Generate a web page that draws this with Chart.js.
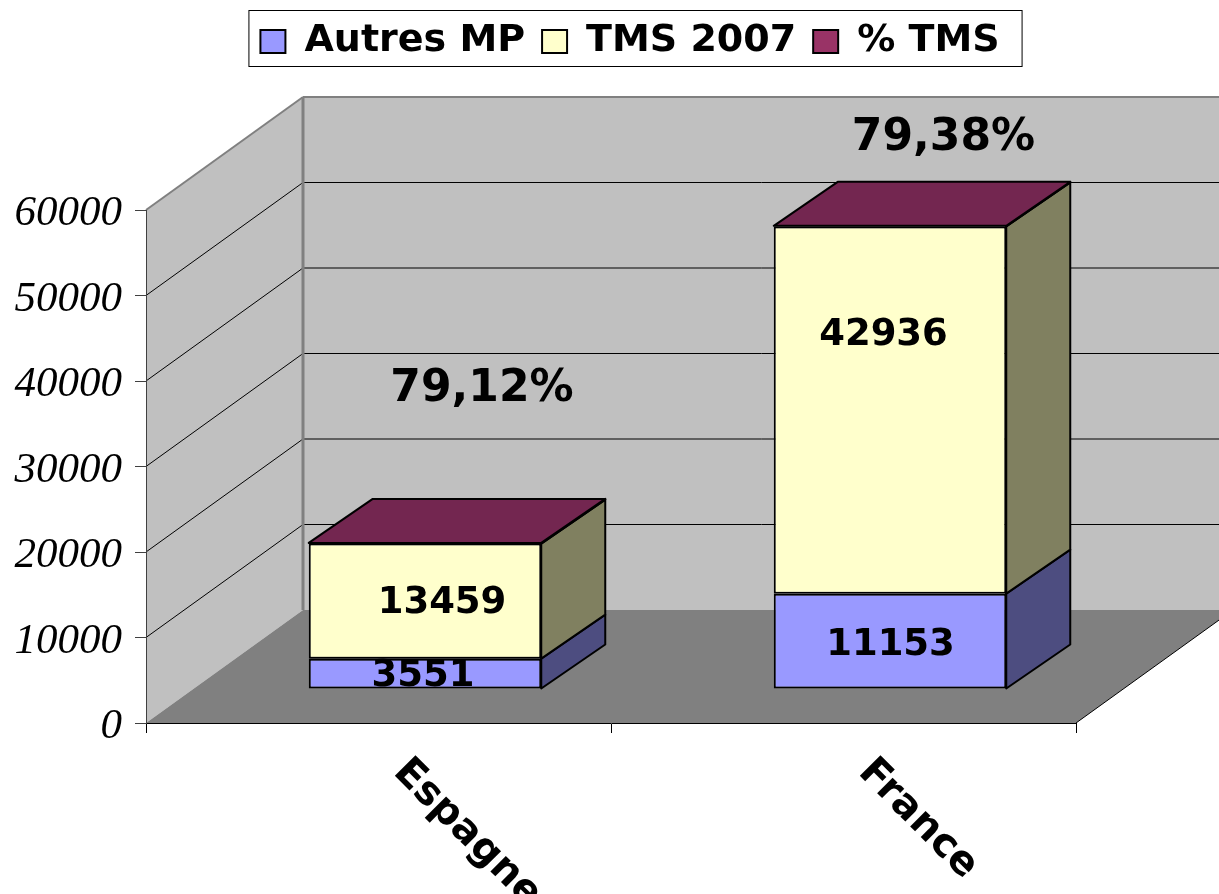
<!DOCTYPE html>
<html><head><meta charset="utf-8">
<style>html,body{margin:0;padding:0;background:#fff;overflow:hidden}canvas{display:block}</style>
<script src="https://cdn.jsdelivr.net/npm/chart.js@4"></script></head>
<body><canvas id="c" width="1219" height="894"></canvas>
<script>
const categories = ["Espagne", "France"];
const autresMP = [3551, 11153];
const tms2007 = [13459, 42936];
const pctTMS = [79.12, 79.38];
const seriesNames = ["Autres MP", "TMS 2007", "% TMS"];
const yTicks = [0, 10000, 20000, 30000, 40000, 50000, 60000];

// 3D look (styling only)
const WALL = {dx: 157, dy: -113};
const BAR_SHIFT = {dx: 46.5, dy: -34};
const BAR_DEPTH = {dx: 64, dy: -44};
const SIDE = ["#4D4D80", "#808060", "#732650"];
const BOLD = '"DejaVu Sans"';
// label nudges relative to the centre of each segment
const NUDGE = [[[-2, 3], [0.5, 4]], [[17, 2], [-6.5, -75]], [[57, -154], [53.5, -88]]];
const LEGEND_SHIFT = 92;

function poly(ctx, pts, fill, stroke, lw) {
  ctx.beginPath();
  pts.forEach((p, i) => i ? ctx.lineTo(p[0], p[1]) : ctx.moveTo(p[0], p[1]));
  ctx.closePath();
  if (fill) { ctx.fillStyle = fill; ctx.fill(); }
  if (stroke) { ctx.strokeStyle = stroke; ctx.lineWidth = lw; ctx.stroke(); }
}
function seg(ctx, a, b, c, w) {
  ctx.beginPath(); ctx.moveTo(a[0], a[1]); ctx.lineTo(b[0], b[1]);
  ctx.strokeStyle = c; ctx.lineWidth = w; ctx.stroke();
}

const scene = {
  id: "scene",
  beforeLayout(chart) {
    const l = chart.legend;
    if (l && !l._patched) {
      l._patched = true;
      const f = l.fit.bind(l);
      l.fit = function () { f(); this.height = 204.5; };
    }
  },
  afterLayout(chart) {
    chart.legend.left += LEGEND_SHIFT;
    chart.legend.right += LEGEND_SHIFT;
  },
  beforeDraw(chart) {
    const ctx = chart.ctx, a = chart.chartArea, y = chart.scales.y;
    const {left: L, right: R, top: T, bottom: B} = a;
    const dx = WALL.dx, dy = WALL.dy;
    ctx.save();
    ctx.fillStyle = "#fff"; ctx.fillRect(0, 0, chart.width, chart.height);
    poly(ctx, [[L + dx, T + dy], [R + dx, T + dy], [R + dx, B + dy], [L + dx, B + dy]], "#C0C0C0");
    poly(ctx, [[L, T], [L + dx, T + dy], [L + dx, B + dy], [L, B]], "#C0C0C0");
    yTicks.filter(v => v > 0 && v < 60000).forEach(v => {
      const p = y.getPixelForValue(v);
      seg(ctx, [L, p], [L + dx, p + dy], "#000", 1);
      seg(ctx, [L + dx, p + dy], [R + dx, p + dy], "#000", 1);
    });
    seg(ctx, [L, T], [L + dx, T + dy], "#808080", 2);
    seg(ctx, [L + dx, T + dy], [R + dx, T + dy], "#808080", 2);
    seg(ctx, [L + dx, T + dy], [L + dx, B + dy], "#808080", 3);
    poly(ctx, [[L, B], [L + dx, B + dy], [R + dx, B + dy], [R, B]], "#808080");
    seg(ctx, [R, B], [R + dx, B + dy], "#000", 1);
    // legend frame
    const hb = chart.legend.legendHitBoxes;
    const x0 = hb[0].left - 12, x1 = hb[hb.length - 1].left + hb[hb.length - 1].width + 22;
    ctx.strokeStyle = "#000"; ctx.lineWidth = 1;
    ctx.strokeRect(x0 + .5, 10.5, x1 - x0, 56);
    ctx.restore();
  },
  beforeDatasetsDraw(chart) {
    chart.ctx.save();
    chart.ctx.translate(BAR_SHIFT.dx, BAR_SHIFT.dy);
  },
  afterDatasetsDraw(chart) {
    const ctx = chart.ctx, dx = BAR_DEPTH.dx, dy = BAR_DEPTH.dy;
    ctx.lineJoin = "round";
    chart.data.datasets.forEach((ds, d) => {
      chart.getDatasetMeta(d).data.forEach(el => {
        const r = el.x + el.width / 2, l = el.x - el.width / 2;
        poly(ctx, [[r, el.y], [r + dx, el.y + dy], [r + dx, el.base + dy], [r, el.base]], SIDE[d], "#000", 2);
        if (d === chart.data.datasets.length - 1) {
          poly(ctx, [[l, el.y], [l + dx, el.y + dy], [r + dx, el.y + dy], [r, el.y]], SIDE[d], "#000", 2);
        }
      });
    });
    ctx.textAlign = "center"; ctx.textBaseline = "middle"; ctx.fillStyle = "#000";
    chart.data.datasets.forEach((ds, d) => {
      chart.getDatasetMeta(d).data.forEach((el, i) => {
        const n = NUDGE[d][i];
        const isPct = d === 2;
        ctx.font = "bold " + (isPct ? 44 : 37) + "px " + BOLD;
        const txt = isPct ? ds.data[i].toFixed(2).replace(".", ",") + "%" : String(ds.data[i]);
        ctx.fillText(txt, el.x + n[0], (el.y + el.base) / 2 + n[1]);
      });
    });
    ctx.restore();
  },
  afterDraw(chart) {
    const ctx = chart.ctx, x = chart.scales.x;
    ctx.save();
    ctx.font = "bold 40px " + BOLD; ctx.fillStyle = "#000";
    ctx.textAlign = "left"; ctx.textBaseline = "middle";
    categories.forEach((c, i) => {
      ctx.save();
      ctx.translate(x.getPixelForValue(i) + 21, chart.chartArea.bottom + 43);
      ctx.rotate(Math.PI / 4);
      ctx.fillText(c, 0, 0);
      ctx.restore();
    });
    ctx.restore();
  }
};

new Chart(document.getElementById("c"), {
  type: "bar",
  data: {
    labels: categories,
    datasets: [
      {label: seriesNames[0], data: autresMP, backgroundColor: "#9999FF"},
      {label: seriesNames[1], data: tms2007, backgroundColor: "#FFFFCC"},
      {label: seriesNames[2], data: pctTMS, backgroundColor: "#993366"}
    ].map(d => Object.assign(d, {borderColor: "#000", borderWidth: 2, borderSkipped: false, barPercentage: 0.5, categoryPercentage: 1, clip: false}))
  },
  plugins: [scene],
  options: {
    responsive: false,
    animation: false,
    layout: {padding: {top: 5.5, right: 143, bottom: 0, left: 0}},
    plugins: {
      tooltip: {enabled: false},
      legend: {
        display: true, position: "top",
        labels: {boxWidth: 25, boxHeight: 23, padding: 17, color: "#000",
          font: {family: BOLD, size: 38, weight: "bold"}}
      }
    },
    scales: {
      x: {
        stacked: true,
        afterFit(s) { s.height = 171; },
        grid: {drawOnChartArea: false, drawTicks: true, tickLength: 10, color: "#000"},
        border: {color: "#000", width: 1},
        ticks: {display: false}
      },
      y: {
        stacked: true, min: 0, max: 60000,
        afterFit(s) {
          s.width = 146;
          if (!s._nudged) {
            s._nudged = true;
            const o = s._computeLabelItems.bind(s);
            s._computeLabelItems = ca => {
              const r = o(ca);
              r.forEach(it => { it.options.translation[1] += 4; });
              return r;
            };
          }
        },
        afterBuildTicks(s) { s.ticks = yTicks.map(v => ({value: v})); },
        grid: {drawOnChartArea: false, drawTicks: true, tickLength: 11, color: "#404040"},
        border: {color: "#404040", width: 1},
        ticks: {padding: 13, color: "#000", font: {family: '"Liberation Serif"', size: 43, style: "italic"},
          callback: v => String(v)}
      }
    }
  }
});
</script></body></html>
